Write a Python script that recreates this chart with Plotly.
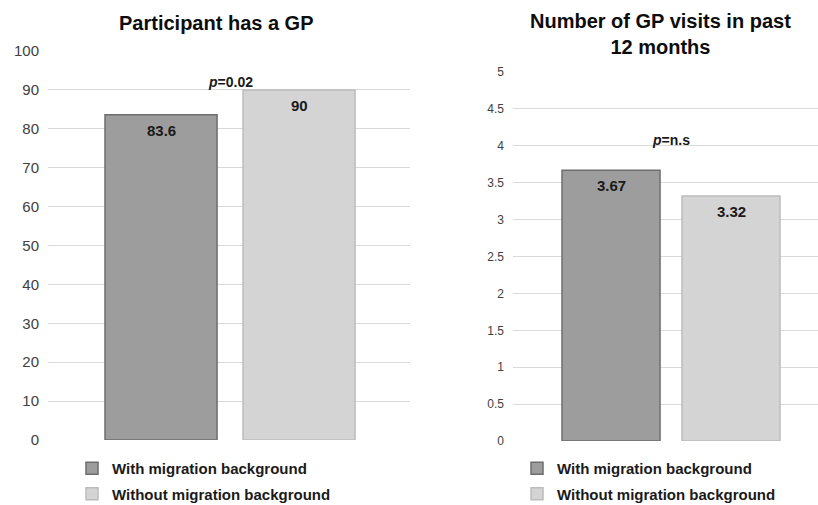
import plotly.graph_objects as go

groups = ["With migration background", "Without migration background"]
has_gp = [83.6, 90]
gp_visits = [3.67, 3.32]
p_left = "0.02"
p_right = "n.s"
title_left = "Participant has a GP"
title_right = "Number of GP visits in past<br>12 months"

fills = ["#9d9d9d", "#d4d4d4"]
borders = ["#6e6e6e", "#bcbcbc"]
FONT = "Liberation Sans, Arial, sans-serif"

W, H = 818, 505

def px_x(v):
    return v / W

def px_y(v):
    return 1 - v / H

fig = go.Figure()
annotations = []

for i, g in enumerate(groups):
    fig.add_trace(go.Bar(
        x=[g], y=[has_gp[i]], name=g, width=0.812,
        marker=dict(color=fills[i], line=dict(color=borders[i], width=1.5)),
        xaxis="x", yaxis="y", legend="legend", legendgroup=f"l{i}",
        hovertemplate="%{y}<extra></extra>",
    ))
    annotations.append(dict(
        text=f"<b>{has_gp[i]:g}</b>", x=g, y=has_gp[i], xref="x", yref="y",
        yshift=-15.5, showarrow=False, xanchor="center", yanchor="middle",
        font=dict(size=15, family=FONT, color="#1a1a1a")))
for i, g in enumerate(groups):
    fig.add_trace(go.Bar(
        x=[g], y=[gp_visits[i]], name=g, width=0.817,
        marker=dict(color=fills[i], line=dict(color=borders[i], width=1.5)),
        xaxis="x2", yaxis="y2", legend="legend2", legendgroup=f"r{i}",
        hovertemplate="%{y}<extra></extra>",
    ))
    annotations.append(dict(
        text=f"<b>{gp_visits[i]:g}</b>", x=g, y=gp_visits[i], xref="x2", yref="y2",
        yshift=-15.5, showarrow=False, xanchor="center", yanchor="middle",
        font=dict(size=15, family=FONT, color="#1a1a1a")))

yaxis_common = dict(
    showgrid=True, gridcolor="#d9d9d9", gridwidth=1, zeroline=False,
    showline=False, ticks="", color="#404040",
)

annotations += [
    dict(text=f"<b>{title_left}</b>", x=px_x(216), y=px_y(23), xref="paper", yref="paper",
         showarrow=False, font=dict(size=20, family=FONT, color="#0d0d0d"),
         xanchor="center", yanchor="middle"),
    dict(text=f"<b>{title_right}</b>", x=px_x(660), y=px_y(34), xref="paper", yref="paper",
         showarrow=False, font=dict(size=20, family=FONT, color="#0d0d0d"),
         xanchor="center", yanchor="middle"),
    dict(text=f"<b><i>p</i>={p_left}</b>", x=0.5, y=92, xref="x", yref="y",
         showarrow=False, font=dict(size=14, family=FONT, color="#1a1a1a"),
         xanchor="center", yanchor="middle"),
    dict(text=f"<b><i>p</i>={p_right}</b>", x=0.5, y=4.08, xref="x2", yref="y2",
         showarrow=False, font=dict(size=14, family=FONT, color="#1a1a1a"),
         xanchor="center", yanchor="middle"),
]

legend_common = dict(
    xanchor="left", yanchor="top",
    font=dict(size=15, family=FONT, color="#1a1a1a", weight="bold"),
    tracegroupgap=3, traceorder="grouped", bgcolor="rgba(0,0,0,0)",
)

fig.update_layout(
    width=W, height=H,
    margin=dict(l=0, r=0, t=0, b=0, autoexpand=False),
    paper_bgcolor="white", plot_bgcolor="white",
    barmode="overlay",
    font=dict(family=FONT, color="#1a1a1a"),
    showlegend=True,
    xaxis=dict(domain=[px_x(48), px_x(410)], range=[-0.819, 1.804],
               showticklabels=False, showgrid=False, zeroline=False, anchor="y"),
    yaxis=dict(domain=[px_y(440), px_y(51)], range=[0, 100], dtick=10,
               tickfont=dict(size=15, family=FONT), ticklabelstandoff=8,
               anchor="x", **yaxis_common),
    xaxis2=dict(domain=[px_x(513), 1.0], range=[-0.817, 1.725],
                showticklabels=False, showgrid=False, zeroline=False, anchor="y2"),
    yaxis2=dict(domain=[px_y(441), px_y(72)], range=[0, 5], dtick=0.5,
                tickfont=dict(size=12, family=FONT), ticklabelstandoff=8,
                anchor="x2", **yaxis_common),
    legend=dict(x=px_x(72), y=px_y(452), **legend_common),
    legend2=dict(x=px_x(517), y=px_y(452), **legend_common),
    annotations=annotations,
)

fig.write_html("out.html")
